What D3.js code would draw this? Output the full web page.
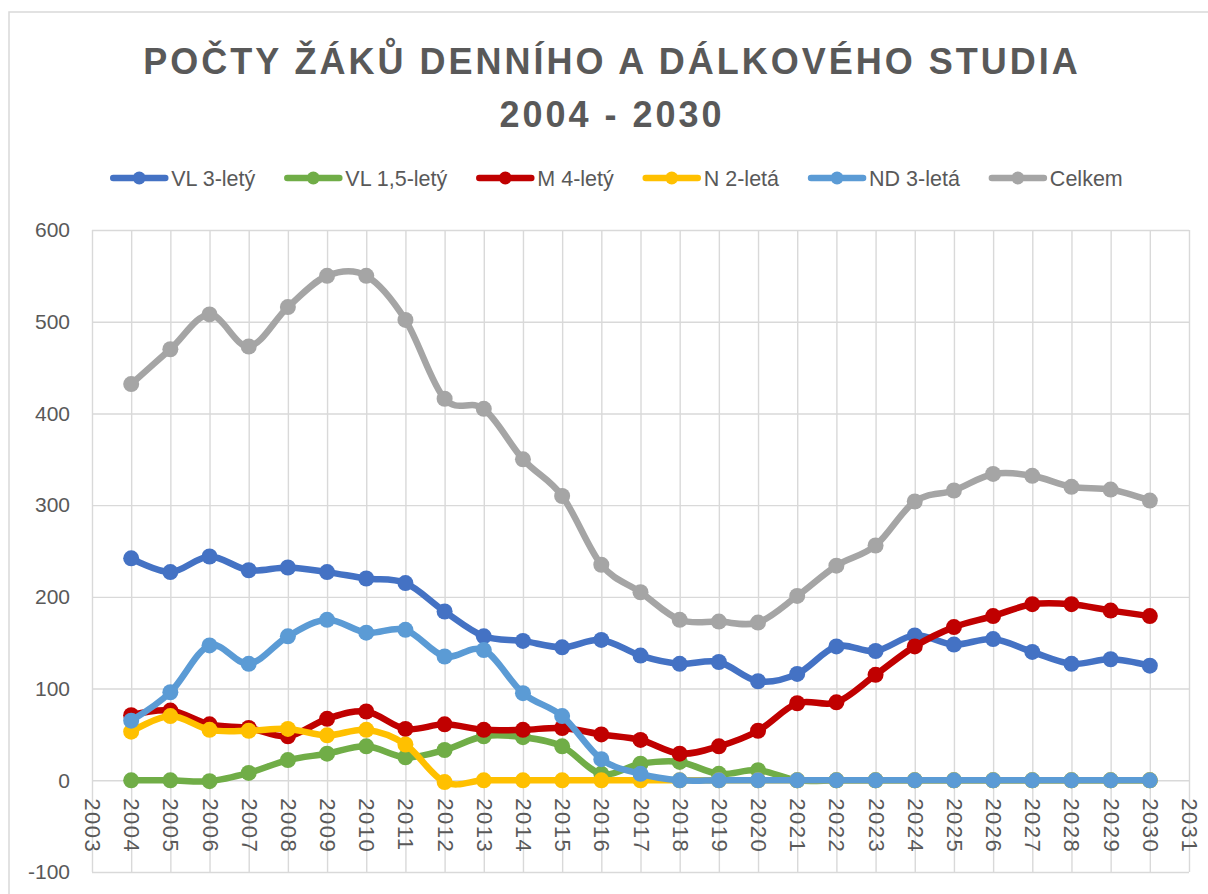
<!DOCTYPE html>
<html><head><meta charset="utf-8">
<script src="https://cdn.jsdelivr.net/npm/d3@7"></script>
<style>
html,body{margin:0;padding:0;background:#fff;}
svg{display:block;}
</style></head>
<body>
<svg id="chart" width="1208" height="894"></svg>
<script>
const titleLines = ["POČTY ŽÁKŮ DENNÍHO A DÁLKOVÉHO STUDIA", "2004 - 2030"];
const years = [2004,2005,2006,2007,2008,2009,2010,2011,2012,2013,2014,2015,2016,2017,2018,2019,2020,2021,2022,2023,2024,2025,2026,2027,2028,2029,2030];
const seriesNames = ["VL 3-letý","VL 1,5-letý","M 4-letý","N 2-letá","ND 3-letá","Celkem"];
const seriesColors = ["#4472C4","#70AD47","#C00000","#FFC000","#5B9BD5","#A5A5A5"];
const vl3   = [242,227,244,229,232,227,220,215,184,157,152,145,153,136,127,129,108,116,146,141,158,148,154,140,127,132,125];
const vl15  = [0,0,-1,8,22,29,37,25,33,48,47,37,7,18,20,7,11,0,0,0,0,0,0,0,0,0,0];
const m4    = [71,76,61,57,48,67,75,56,61,55,55,57,50,44,29,37,54,84,85,115,146,167,179,192,192,185,179];
const n2    = [53,70,55,54,56,49,55,39,-2,0,0,0,0,0,0,0,0,0,0,0,0,0,0,0,0,0,0];
const nd3   = [65,96,147,127,157,175,161,164,135,142,95,70,23,7,0,0,0,0,0,0,0,0,0,0,0,0,0];
const celkem= [432,470,508,473,516,550,550,502,416,405,350,310,235,205,175,173,172,201,234,256,304,316,334,332,320,317,305];
const seriesValues = [vl3, vl15, m4, n2, nd3, celkem];
const yTicks = [-100,0,100,200,300,400,500,600];
const xTicks = d3.range(2003, 2032);

const svg = d3.select("#chart");
const txt = "#595959", grid = "#D9D9D9";
const fam = "Liberation Sans, Arial, sans-serif";

// outer chart border
svg.append("rect").attr("x",9).attr("y",12).attr("width",1230).attr("height",900)
  .attr("fill","none").attr("stroke",grid).attr("stroke-width",1.5);

// title
svg.append("g").selectAll("text").data(titleLines).join("text")
  .attr("x",612).attr("y",(d,i)=>74+i*53)
  .attr("text-anchor","middle")
  .attr("font-family",fam)
  .attr("font-weight","bold").attr("font-size",36)
  .attr("letter-spacing",3)
  .attr("fill",txt).text(d=>d);

const x = d3.scaleLinear().domain([2003,2031]).range([92,1189]);
const y = d3.scaleLinear().domain([-100,600]).range([872,230]);

// gridlines
const gg = svg.append("g");
gg.append("g").call(d3.axisLeft(y).tickValues(yTicks).tickSize(-(1189-92)).tickFormat(""))
  .attr("transform","translate(92,0)")
  .call(g=>g.select(".domain").remove())
  .call(g=>g.selectAll("line").attr("stroke",grid).attr("stroke-width",1.4));
gg.append("g").call(d3.axisBottom(x).tickValues(xTicks).tickSize(-(872-230)).tickFormat(""))
  .attr("transform","translate(0,872)")
  .call(g=>g.select(".domain").remove())
  .call(g=>g.selectAll("line").attr("stroke",grid).attr("stroke-width",1.4));

// y labels
const ya = svg.append("g").attr("transform","translate(92,0)")
  .call(d3.axisLeft(y).tickValues(yTicks).tickSize(0).tickPadding(22).tickFormat(d=>String(d)));
ya.select(".domain").remove();
ya.selectAll("text").attr("font-family",fam)
  .attr("font-size",21).attr("fill",txt);

// x labels rotated, positioned below the zero line
const xa = svg.append("g").attr("transform",`translate(0,${y(0)})`)
  .call(d3.axisBottom(x).tickValues(xTicks).tickSize(0).tickFormat(d=>String(d)));
xa.select(".domain").remove();
xa.selectAll("text")
  .attr("font-family",fam)
  .attr("font-size",22).attr("letter-spacing",1.5).attr("fill",txt)
  .attr("text-anchor","start").attr("dy",null).attr("y",0)
  .attr("dominant-baseline","central")
  .attr("transform","translate(0,18) rotate(90)");

// series
const line = d3.line().x((d,i)=>x(years[i])).y(d=>y(d)).curve(d3.curveCardinal.tension(0));
seriesValues.forEach((vals,k)=>{
  const g = svg.append("g");
  g.append("path").attr("d",line(vals)).attr("fill","none")
    .attr("stroke",seriesColors[k]).attr("stroke-width",6.5)
    .attr("stroke-linejoin","round").attr("stroke-linecap","round");
  g.selectAll("circle").data(vals).join("circle")
    .attr("cx",(d,i)=>x(years[i])).attr("cy",d=>y(d)).attr("r",8)
    .attr("fill",seriesColors[k]);
});

// legend
const lg = svg.append("g");
let cx = 0;
const items = [];
seriesNames.forEach((n,k)=>{
  const it = lg.append("g");
  it.append("line").attr("x1",2).attr("x2",54).attr("y1",0).attr("y2",0)
    .attr("stroke",seriesColors[k]).attr("stroke-width",6.5).attr("stroke-linecap","round");
  it.append("circle").attr("cx",28).attr("cy",0).attr("r",6.5).attr("fill",seriesColors[k]);
  const t = it.append("text").attr("x",60).attr("y",7.5)
    .attr("font-family",fam).attr("font-size",21.5)
    .attr("fill",txt).text(n);
  const w = 60 + t.node().getComputedTextLength();
  items.push({it, start: cx});
  cx += w + 30;
});
const total = cx - 30;
const lx0 = 617 - total/2;
items.forEach(o=>o.it.attr("transform",`translate(${lx0+o.start},178)`));
</script>
</body></html>
